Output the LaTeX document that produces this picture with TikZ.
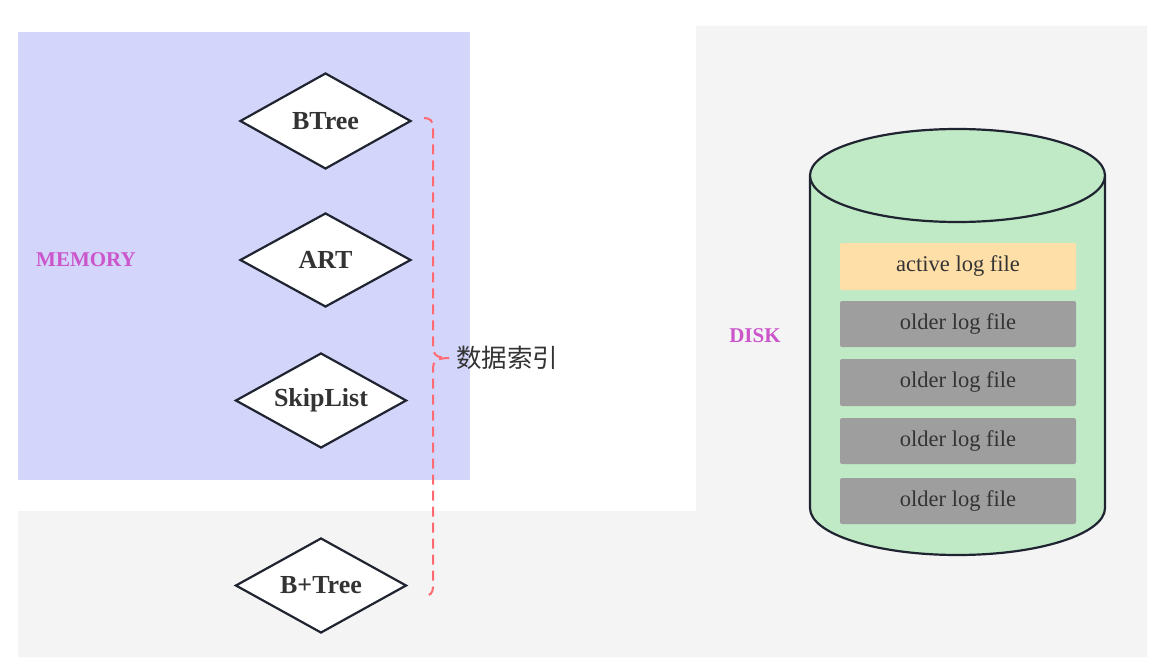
\documentclass[tikz,border=0pt]{standalone}
\usepackage{fontspec}
\setmainfont{Liberation Serif}
\newfontfamily\cjk{Noto Sans CJK SC}
\usetikzlibrary{shapes.geometric}
\definecolor{memblue}{HTML}{D3D5FB}
\definecolor{diskgray}{HTML}{F4F4F4}
\definecolor{cylgreen}{HTML}{C0E9C6}
\definecolor{activeor}{HTML}{FFDFA8}
\definecolor{oldgray}{HTML}{9E9E9E}
\definecolor{txtgray}{HTML}{333333}
\definecolor{strokedark}{HTML}{1F2430}
\definecolor{labelmag}{HTML}{CC55CC}
\definecolor{bracered}{HTML}{FF6B70}
\tikzset{
  idxnode/.style={diamond, draw=strokedark, line width=2.2pt, fill=white, inner sep=0pt,
    minimum width=171pt, minimum height=96pt},
  idxtext/.style={text=txtgray, font=\fontsize{26}{30}\selectfont\bfseries, inner sep=0pt},
  logbox/.style={rectangle, rounded corners=2pt, inner sep=0pt, minimum width=236pt,
    minimum height=46pt, text=txtgray, font=\fontsize{22.5}{26}\selectfont},
  arealabel/.style={text=labelmag, font=\fontsize{21}{25}\selectfont\bfseries, inner sep=0pt},
  bracestyle/.style={draw=bracered, line width=2pt, dash pattern=on 10pt off 6pt}
}
\begin{document}
\begin{tikzpicture}[x=1pt,y=-1pt]
\useasboundingbox (0,0) rectangle (1168,666);
\fill[white] (0,0) rectangle (1168,666);
% regions
\fill[diskgray] (696,26) -- (1147,26) -- (1147,657) -- (18,657) -- (18,511) -- (696,511) -- cycle;
\fill[memblue] (18,32) rectangle (470,480);
\node[arealabel] (mem) at (86,260) {MEMORY};
\node[arealabel] (disk) at (755,336) {DISK};
% index diamonds
\node[idxnode, label={[idxtext]center:BTree}] (btree) at (325.5,121) {};
\node[idxnode, minimum height=94pt, label={[idxtext]center:ART}] (art) at (325.5,260) {};
\node[idxnode, minimum height=95pt, label={[idxtext]center:SkipList}] (skip) at (321,400.5) {};
\node[idxnode, minimum height=95pt, label={[idxtext]center:B+Tree}] (bptree) at (321,585.5) {};
% brace
\coordinate (brtop) at (424,118);
\coordinate (brtip) at (449,358);
\coordinate (brbot) at (424,596);
\draw[bracestyle] (brtop) .. controls (430,118) and (433,121) .. (433,127) -- (433,348)
  .. controls (433,354) and (436,358) .. (brtip);
\draw[bracestyle] (brtip) .. controls (436,358) and (433,362) .. (433,368) -- (433,587)
  .. controls (433,593) and (430,596) .. (brbot);
\node[anchor=west, inner sep=0pt, text=txtgray, font=\cjk\fontsize{25.5}{30}\selectfont] (idxlabel) at (456,358) {数据索引};
% cylinder
\fill[cylgreen] (810,176) -- (810,508) arc[start angle=180, end angle=0, x radius=147.5, y radius=47] -- (1105,176) -- cycle;
\draw[strokedark, line width=2.2pt] (810,176) -- (810,508) arc[start angle=180, end angle=0, x radius=147.5, y radius=47] -- (1105,176);
\draw[strokedark, line width=2.2pt, fill=cylgreen] (957.5,175.5) ellipse[x radius=147.5, y radius=46.5];
% log files
\node[logbox, fill=activeor, minimum height=47pt] (active) at (958,266.5) {active log file};
\node[logbox, fill=oldgray] (old1) at (958,324) {older log file};
\node[logbox, fill=oldgray, minimum height=47pt] (old2) at (958,382.5) {older log file};
\node[logbox, fill=oldgray] (old3) at (958,441) {older log file};
\node[logbox, fill=oldgray] (old4) at (958,501) {older log file};
\end{tikzpicture}
\end{document}
